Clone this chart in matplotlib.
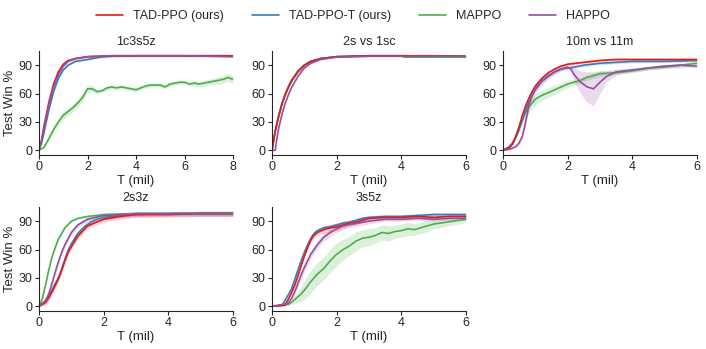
import numpy as np
import matplotlib
matplotlib.use("Agg")
import matplotlib.pyplot as plt
import seaborn as sns

sns.set_theme(style="ticks")
plt.rcParams['font.family'] = ['Liberation Sans', 'DejaVu Sans']

methods = ["TAD-PPO (ours)", "TAD-PPO-T (ours)", "MAPPO", "HAPPO"]
colors = ["#e41a1c", "#377eb8", "#4daf4a", "#984ea3"]
titles = ["1c3s5z", "2s vs 1sc", "10m vs 11m", "2s3z", "3s5z"]
xmax = [8, 6, 6, 6, 6]
xticks = [[0, 2, 4, 6, 8], [0, 2, 4, 6], [0, 2, 4, 6], [0, 2, 4, 6], [0, 2, 4, 6]]
yticks = [0, 30, 60, 90]

# ---------------- 1c3s5z ----------------
p1_red_x = [0, 0.1, 0.2, 0.4, 0.6, 0.8, 1.0, 1.2, 1.5, 2.0, 2.5, 3.0, 4.0, 5.0, 6.0, 7.0, 8.0]
p1_red_y = [1, 10, 25, 50, 70, 83, 91, 95, 97, 99, 99.5, 100, 100, 100, 100, 100, 100]
p1_red_sd = 1.0
p1_blue_x = [0, 0.1, 0.2, 0.4, 0.6, 0.8, 1.0, 1.2, 1.5, 2.0, 2.5, 3.0, 4.0, 5.0, 6.0, 7.0, 7.6]
p1_blue_y = [1, 7, 18, 42, 62, 76, 85, 90, 94, 96, 98.5, 99.5, 100, 100, 100, 100, 100]
p1_blue_sd = 1.0
p1_green_x = [0, 0.2, 0.4, 0.6, 0.8, 1.0, 1.2, 1.4, 1.6, 1.8, 2.0, 2.2, 2.4, 2.6, 2.8, 3.0,
              3.2, 3.4, 3.6, 3.8, 4.0, 4.2, 4.4, 4.6, 4.8, 5.0, 5.2, 5.4, 5.6, 5.8, 6.0,
              6.2, 6.4, 6.6, 6.8, 7.0, 7.2, 7.4, 7.6, 7.8, 8.0]
p1_green_y = [0, 3, 12, 22, 30, 37, 41, 45, 50, 56, 65, 65, 62, 63, 66, 67,
              66, 67, 66, 65, 64, 66, 68, 69, 69, 69, 67, 70, 71, 72, 72,
              70, 71, 70, 71, 72, 73, 74, 75, 77, 75]
p1_green_sd = [0.5, 1, 2, 3, 4, 4, 4, 4, 4, 4, 4, 3, 2, 2, 2, 2,
               2, 2, 2, 2, 2, 2, 2, 2, 2, 2, 2, 2, 2, 2, 2,
               2, 3, 3, 3, 3, 3, 4, 4, 4, 4]
p1_purple_x = [0, 0.1, 0.2, 0.4, 0.6, 0.8, 1.0, 1.2, 1.5, 2.0, 2.5, 3.0, 4.0, 5.0, 6.0, 7.0, 8.0]
p1_purple_y = [1, 9, 22, 47, 67, 80, 89, 94, 97, 99, 99.5, 100, 100, 100, 100, 99.5, 99]
p1_purple_sd = 1.0

# ---------------- 2s vs 1sc ----------------
p2_red_x = [0, 0.1, 0.2, 0.3, 0.4, 0.5, 0.6, 0.8, 1.0, 1.2, 1.5, 2.0, 3.0, 4.0, 5.0, 6.0]
p2_red_y = [0, 20, 35, 48, 58, 66, 73, 83, 90, 94, 97, 99, 100, 100, 100, 99.5]
p2_red_sd = 0.5
p2_blue_x = [0, 0.1, 0.2, 0.3, 0.4, 0.5, 0.6, 0.8, 1.0, 1.2, 1.5, 2.0, 3.0, 4.0, 5.0, 6.0]
p2_blue_y = [0, 20, 35, 48, 58, 66, 73, 83, 90, 94, 97, 99, 100, 100, 99.5, 99.5]
p2_blue_sd = 0.5
p2_green_x = [0, 0.1, 0.2, 0.3, 0.4, 0.5, 0.6, 0.8, 1.0, 1.2, 1.5, 2.0, 3.0, 4.0, 4.1, 5.0, 6.0]
p2_green_y = [0, 21, 36, 49, 59, 67, 74, 84, 90, 94, 97, 99, 99.5, 99.5, 98.5, 98.5, 98.5]
p2_green_sd = 0.5
p2_purple_x = [0, 0.1, 0.15, 0.2, 0.3, 0.4, 0.5, 0.6, 0.8, 1.0, 1.2, 1.5, 2.0, 3.0, 4.0, 5.0, 6.0]
p2_purple_y = [0, 0, 12, 22, 37, 49, 58, 66, 78, 87, 92, 96, 98.5, 99.5, 99.5, 99.5, 99.5]
p2_purple_sd = 0.5

# ---------------- 10m vs 11m ----------------
p3_red_x = [0, 0.2, 0.3, 0.4, 0.5, 0.6, 0.7, 0.8, 0.9, 1.0, 1.2, 1.4, 1.6, 1.8, 2.0, 2.5,
            3.0, 3.5, 4.0, 4.5, 5.0, 5.5, 6.0]
p3_red_y = [0, 3, 7, 15, 25, 37, 47, 55, 62, 68, 76, 82, 86, 89, 91, 93,
            95, 96, 96, 96, 96, 96, 96]
p3_red_sd = 1.5
p3_blue_x = [0, 0.2, 0.3, 0.4, 0.5, 0.6, 0.7, 0.8, 0.9, 1.0, 1.2, 1.4, 1.6, 1.8, 2.0, 2.2,
             2.5, 3.0, 3.5, 4.0, 4.5, 5.0, 5.5, 6.0]
p3_blue_y = [0, 4, 8, 14, 22, 32, 42, 51, 58, 64, 73, 79, 83, 86, 87, 88,
             90, 92, 93, 94, 94, 94, 94.5, 95]
p3_blue_sd = 1.5
p3_green_x = [0, 0.2, 0.3, 0.4, 0.5, 0.6, 0.7, 0.8, 0.9, 1.0, 1.2, 1.4, 1.6, 1.8, 2.0, 2.2,
              2.4, 2.6, 2.8, 3.0, 3.5, 4.0, 4.5, 5.0, 5.5, 6.0]
p3_green_y = [0, 3, 8, 15, 25, 33, 40, 46, 50, 54, 58, 61, 64, 67, 70, 72,
              74, 77, 79, 81, 82, 84, 87, 88, 90, 92]
p3_green_sd = [0, 1, 2, 3, 4, 5, 6, 6, 6, 6, 5, 5, 5, 4, 4, 3,
               3, 3, 3, 3, 2, 2, 2, 2, 2, 2]
p3_purple_x = [0, 0.2, 0.4, 0.5, 0.6, 0.7, 0.8, 0.9, 1.0, 1.2, 1.4, 1.6, 1.8, 2.0, 2.1, 2.2,
               2.4, 2.6, 2.8, 3.0, 3.2, 3.5, 4.0, 4.5, 5.0, 5.5, 6.0]
p3_purple_y = [0, 1, 4, 8, 15, 30, 47, 58, 65, 73, 78, 83, 86, 88, 86, 80,
               72, 67, 65, 72, 78, 83, 85, 87, 89, 90, 89]
p3_purple_sd = [0, 0.5, 1, 2, 3, 4, 5, 5, 5, 4, 3, 3, 2, 2, 3, 7,
                12, 16, 18, 12, 6, 3, 2, 2, 2, 2, 2]

# ---------------- 2s3z ----------------
p4_red_x = [0, 0.2, 0.3, 0.4, 0.5, 0.6, 0.7, 0.8, 0.9, 1.0, 1.2, 1.5, 2.0, 2.5, 3.0, 4.0, 5.0, 6.0]
p4_red_y = [0, 4, 9, 15, 22, 29, 38, 48, 57, 63, 74, 85, 92, 95, 97, 97, 98, 98]
p4_red_sd = 3.0
p4_blue_x = [0, 0.2, 0.3, 0.4, 0.5, 0.6, 0.7, 0.8, 0.9, 1.0, 1.2, 1.4, 1.6, 1.8, 2.0, 2.5,
             3.0, 4.0, 5.0, 6.0]
p4_blue_y = [0, 5, 10, 17, 24, 30, 39, 50, 59, 66, 77, 84, 89, 92, 94, 96,
             97, 98, 98, 98]
p4_blue_sd = 2.5
p4_green_x = [0, 0.1, 0.2, 0.3, 0.4, 0.5, 0.6, 0.8, 1.0, 1.2, 1.5, 2.0, 3.0, 4.0, 5.0, 6.0]
p4_green_y = [0, 8, 22, 38, 52, 62, 71, 83, 90, 93, 95, 97, 98, 98, 99, 99]
p4_green_sd = 1.0
p4_purple_x = [0, 0.2, 0.3, 0.4, 0.5, 0.6, 0.7, 0.8, 1.0, 1.2, 1.5, 2.0, 3.0, 4.0, 5.0, 6.0]
p4_purple_y = [0, 6, 13, 24, 36, 47, 57, 65, 78, 86, 92, 96, 98, 98, 98, 98]
p4_purple_sd = 2.5

# ---------------- 3s5z ----------------
p5_red_x = [0, 0.4, 0.5, 0.6, 0.7, 0.8, 0.9, 1.0, 1.1, 1.2, 1.3, 1.4, 1.6, 1.8, 2.0, 2.2,
            2.4, 2.6, 2.8, 3.0, 3.5, 4.0, 4.5, 5.0, 5.5, 6.0]
p5_red_y = [0, 1, 7, 14, 22, 32, 43, 53, 62, 70, 75, 78, 81, 83, 84, 86,
            88, 89, 91, 93, 94, 94, 95, 94, 95, 95]
p5_red_sd = [0, 0.5, 1, 2, 2, 2, 2, 2, 2, 2, 3, 3, 4, 4, 4, 4,
             3, 3, 2, 2, 2, 2, 2, 2, 2, 2]
p5_blue_x = [0, 0.3, 0.35, 0.5, 0.6, 0.7, 0.8, 0.9, 1.0, 1.1, 1.2, 1.3, 1.4, 1.6, 1.8, 2.0,
             2.2, 2.4, 2.6, 2.8, 3.0, 3.5, 4.0, 4.5, 5.0, 5.5, 6.0]
p5_blue_y = [0, 1, 3, 12, 18, 28, 38, 48, 57, 65, 72, 77, 80, 83, 84, 86,
             88, 89, 91, 93, 94, 95, 95, 96, 97, 97, 97]
p5_blue_sd = 2.0
p5_green_x = [0, 0.5, 0.6, 0.7, 0.8, 0.9, 1.0, 1.2, 1.4, 1.6, 1.8, 2.0, 2.2, 2.4, 2.6, 2.8,
              3.0, 3.2, 3.4, 3.6, 3.8, 4.0, 4.2, 4.4, 4.6, 4.8, 5.0, 5.2, 5.4, 5.6, 5.8, 6.0]
p5_green_y = [0, 2, 4, 7, 10, 13, 17, 26, 34, 40, 48, 55, 60, 64, 69, 72,
              73, 75, 78, 77, 79, 80, 82, 81, 83, 85, 87, 88, 89, 90, 91, 92]
p5_green_sd = [0, 1, 2, 4, 6, 8, 10, 12, 12, 12, 12, 12, 11, 10, 10, 9,
               9, 8, 8, 8, 7, 7, 7, 6, 6, 6, 5, 5, 4, 4, 4, 3]
p5_purple_x = [0, 0.5, 0.6, 0.7, 0.8, 0.9, 1.0, 1.2, 1.4, 1.6, 1.8, 2.0, 2.2, 2.5, 3.0, 3.5,
               4.0, 4.5, 5.0, 5.5, 6.0]
p5_purple_y = [0, 3, 8, 15, 24, 33, 41, 55, 65, 73, 78, 82, 85, 87, 90, 92,
               92, 93, 92, 93, 93]
p5_purple_sd = [0, 1, 2, 3, 4, 4, 4, 4, 4, 4, 4, 4, 3, 3, 3, 2,
                2, 2, 2, 2, 2]

panels = [
    [(p1_red_x, p1_red_y, p1_red_sd), (p1_blue_x, p1_blue_y, p1_blue_sd),
     (p1_green_x, p1_green_y, p1_green_sd), (p1_purple_x, p1_purple_y, p1_purple_sd)],
    [(p2_red_x, p2_red_y, p2_red_sd), (p2_blue_x, p2_blue_y, p2_blue_sd),
     (p2_green_x, p2_green_y, p2_green_sd), (p2_purple_x, p2_purple_y, p2_purple_sd)],
    [(p3_red_x, p3_red_y, p3_red_sd), (p3_blue_x, p3_blue_y, p3_blue_sd),
     (p3_green_x, p3_green_y, p3_green_sd), (p3_purple_x, p3_purple_y, p3_purple_sd)],
    [(p4_red_x, p4_red_y, p4_red_sd), (p4_blue_x, p4_blue_y, p4_blue_sd),
     (p4_green_x, p4_green_y, p4_green_sd), (p4_purple_x, p4_purple_y, p4_purple_sd)],
    [(p5_red_x, p5_red_y, p5_red_sd), (p5_blue_x, p5_blue_y, p5_blue_sd),
     (p5_green_x, p5_green_y, p5_green_sd), (p5_purple_x, p5_purple_y, p5_purple_sd)],
]

W, H = 706, 349
fig = plt.figure(figsize=(W / 100, H / 100), dpi=100)

col_left = [39, 272, 503]
row_top = [51, 207]
ax_w, ax_h = 194, 104

positions = [(0, 0), (0, 1), (0, 2), (1, 0), (1, 1)]
draw_order = [2, 1, 0, 3]
for i, (r, c) in enumerate(positions):
    left = col_left[c] / W
    bottom = 1 - (row_top[r] + ax_h) / H
    ax = fig.add_axes([left, bottom, ax_w / W, ax_h / H])
    for k in draw_order:
        x, y, sd = panels[i][k]
        x = np.asarray(x, float)
        y = np.asarray(y, float)
        sd = np.asarray(sd, float) * np.ones_like(y)
        ax.fill_between(x, np.clip(y - sd, 0, 100), np.clip(y + sd, 0, 100),
                        color=colors[k], alpha=0.2, linewidth=0)
        ax.plot(x, y, color=colors[k], lw=1.2, label=methods[k])
    ax.set_xlim(0, xmax[i])
    ax.set_ylim(-5, 105)
    ax.set_xticks(xticks[i])
    ax.set_yticks(yticks)
    ax.set_title(titles[i], fontsize=9, pad=4, color="#262626")
    ax.set_xlabel("T (mil)", fontsize=9.5, labelpad=1, color="#262626")
    if c == 0:
        ax.set_ylabel("Test Win %", fontsize=9.5, labelpad=2, color="#262626")
    ax.tick_params(labelsize=9, length=3, width=0.8, pad=1.5, colors="#262626")
    for s in ["top", "right"]:
        ax.spines[s].set_visible(False)
    for s in ["left", "bottom"]:
        ax.spines[s].set_linewidth(0.8)
        ax.spines[s].set_color("#262626")

handles = [plt.Line2D([], [], color=colors[k], lw=1.2) for k in range(4)]
fig.legend(handles, methods, loc="center", bbox_to_anchor=(0.5, 1 - 16 / H),
           ncol=4, frameon=False, fontsize=9, handlelength=2.2, columnspacing=2.2)

fig.savefig("out.png", dpi=100)
